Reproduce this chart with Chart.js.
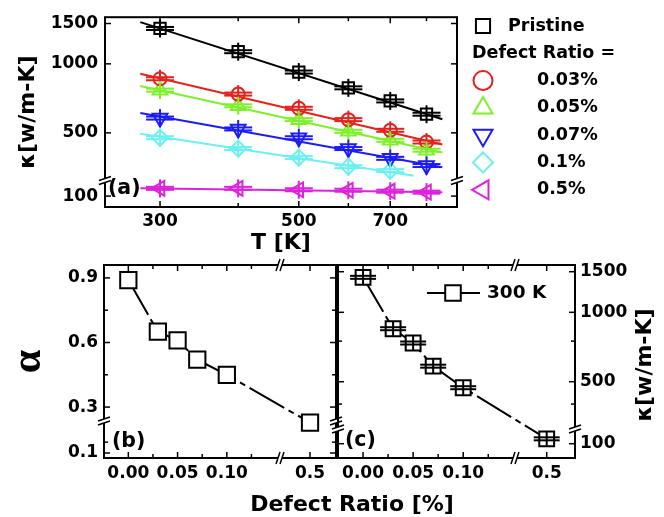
<!DOCTYPE html>
<html>
<head>
<meta charset="utf-8">
<script src="https://cdn.jsdelivr.net/npm/chart.js@4.4.0/dist/chart.umd.min.js"></script>
<style>
  html, body { margin: 0; padding: 0; background: #fff; }
  #wrap { position: relative; width: 664px; height: 517px; }
  #wrap canvas { position: absolute; left: 0; top: 0; }
</style>
</head>
<body>
<div id="wrap">
  <canvas id="chartA" width="664" height="517"></canvas>
  <canvas id="chartB" width="664" height="517"></canvas>
  <canvas id="chartC" width="664" height="517"></canvas>
</div>
<script>
// (a) kappa vs T
const temps = [300, 400, 500, 600, 700, 800];
const tempsCyan = [300, 400, 500, 600, 700];
const kPristine = [1427, 1130, 921, 786, 689, 603];
const k003 = [861, 738, 640, 571, 513, 456];
const k005 = [768, 656, 571, 508, 464, 420];
const k007 = [580, 520, 476, 427, 387, 360];
const k01 = [476, 427, 390, 356, 342];
const k05 = [108, 108, 106.5, 106, 105, 104];
// fitted lines, end points
const fitT = [279, 848];
const fitTCyan = [279, 763];
const fitPristine = [1521, 573];
const fit003 = [905, 445];
const fit005 = [800, 410];
const fit007 = [610, 354];
const fit01 = [495, 325];
const fit05 = [108, 104];

const tTicks = [300, 400, 500, 600, 700, 800];
const tLabels = ['300', '', '500', '', '700', ''];
const kTicksA = [100, 500, 1000, 1500];
const kLabelsA = ['100', '500', '1000', '1500'];

// (b) alpha and (c) kappa at 300 K vs defect ratio
const ratios = [0, 0.03, 0.05, 0.07, 0.1, 0.5];
const alphaVals = [0.89, 0.65, 0.61, 0.52, 0.45, 0.24];
const k300 = [1418, 849, 736, 584, 471, 105];

const ratioTicks = [0, 0.025, 0.05, 0.075, 0.1, 0.125, 0.5];
const ratioLabels = ['0.00', '', '0.05', '', '0.10', '', '0.5'];
const alphaTicks = [0.1, 0.15, 0.3, 0.45, 0.6, 0.75, 0.9];
const alphaLabels = ['0.1', '', '0.3', '', '0.6', '', '0.9'];
const kTicksC = [100, 400, 500, 750, 1000, 1500];
const kLabelsC = ['100', '', '500', '', '1000', '1500'];

const FONT = 'DejaVu Sans';
const tickFont = { family: FONT, size: 17, weight: 'bold' };

// axis made of several pieces (linear or log) with a break between them
class BrokenScale extends Chart.LinearScale {
  segs() {
    return this.chart.config.options.scales[this.id].segments;
  }
  determineDataLimits() {
    const s = this.segs();
    this.min = s[0].min;
    this.max = s[s.length - 1].max;
  }
  buildTicks() {
    return this.chart.config.options.scales[this.id].tickValues.map(v => ({ value: v }));
  }
  toDecimal(v) {
    const s = this.segs();
    const total = s.reduce((a, g) => a + g.weight, 0);
    let start = 0;
    for (let i = 0; i < s.length; i++) {
      const g = s[i];
      const span = g.weight / total;
      if (v <= g.max || i === s.length - 1) {
        const t = g.log ? Math.log(v / g.min) / Math.log(g.max / g.min) : (v - g.min) / (g.max - g.min);
        return start + t * span;
      }
      start += span;
    }
  }
  getPixelForValue(v) {
    return this.getPixelForDecimal(this.toDecimal(v));
  }
  getValueForPixel() {
    return this.min;
  }
  breakPixels() {
    const s = this.segs();
    const total = s.reduce((a, g) => a + g.weight, 0);
    const out = [];
    let acc = 0;
    for (let i = 0; i < s.length - 1; i++) {
      acc += s[i].weight / total;
      out.push(this.getPixelForDecimal(acc));
    }
    return out;
  }
}
BrokenScale.id = 'broken';
BrokenScale.defaults = {};
Chart.register(BrokenScale);

const pts = (xs, ys) => xs.map((x, i) => ({ x: x, y: ys[i] }));

function seg(ctx, x1, y1, x2, y2) {
  ctx.beginPath();
  ctx.moveTo(x1, y1);
  ctx.lineTo(x2, y2);
  ctx.stroke();
}
function breakV(ctx, x, y) {
  ctx.fillStyle = '#fff';
  ctx.beginPath();
  ctx.moveTo(x - 6, y + 1); ctx.lineTo(x + 6, y - 3); ctx.lineTo(x + 6, y + 1); ctx.lineTo(x - 6, y + 5);
  ctx.closePath(); ctx.fill();
  seg(ctx, x - 6, y + 1, x + 6, y - 3);
  seg(ctx, x - 6, y + 5, x + 6, y + 1);
}
function breakH(ctx, x, y) {
  ctx.fillStyle = '#fff';
  ctx.beginPath();
  ctx.moveTo(x - 4, y + 6); ctx.lineTo(x, y - 6); ctx.lineTo(x + 4, y - 6); ctx.lineTo(x, y + 6);
  ctx.closePath(); ctx.fill();
  seg(ctx, x - 4, y + 6, x, y - 6);
  seg(ctx, x, y + 6, x + 4, y - 6);
}

// frame, inward ticks on all four sides, break marks
const framePlugin = {
  id: 'frame',
  afterDraw(chart) {
    const { ctx, chartArea: a, scales } = chart;
    const xs = scales.x, ys = scales.y;
    ctx.save();
    ctx.strokeStyle = '#000';
    ctx.lineWidth = 2;
    ctx.strokeRect(a.left, a.top, a.right - a.left, a.bottom - a.top);
    ctx.lineWidth = 1.5;
    xs.ticks.forEach(t => {
      const p = xs.getPixelForValue(t.value);
      const len = t.label ? 6 : 4;
      seg(ctx, p, a.bottom, p, a.bottom - len);
      seg(ctx, p, a.top, p, a.top + len);
    });
    ys.ticks.forEach(t => {
      const p = ys.getPixelForValue(t.value);
      const len = t.label ? 6 : 4;
      seg(ctx, a.left, p, a.left + len, p);
      seg(ctx, a.right, p, a.right - len, p);
    });
    xs.breakPixels().forEach(p => { breakH(ctx, p, a.bottom); breakH(ctx, p, a.top); });
    ys.breakPixels().forEach(p => { breakV(ctx, a.left, p); breakV(ctx, a.right, p); });
    ctx.restore();
  }
};

// error bars: wide horizontal bar and short vertical one through each point
const errPlugin = {
  id: 'errBars',
  afterDatasetsDraw(chart) {
    const ctx = chart.ctx;
    ctx.save();
    chart.data.datasets.forEach((ds, i) => {
      if (!ds.errW) return;
      ctx.strokeStyle = ds.borderColor;
      ctx.lineWidth = 2;
      chart.getDatasetMeta(i).data.forEach(el => {
        seg(ctx, el.x - ds.errW, el.y - 1.5, el.x + ds.errW, el.y - 1.5);
        seg(ctx, el.x - ds.errW, el.y + 1.5, el.x + ds.errW, el.y + 1.5);
        seg(ctx, el.x, el.y - ds.errH, el.x, el.y + ds.errH);
      });
    });
    ctx.restore();
  }
};

function textPlugin(items) {
  return {
    id: 'texts',
    afterDraw(chart) {
      const ctx = chart.ctx;
      ctx.save();
      ctx.fillStyle = '#000';
      items.forEach(it => {
        ctx.font = it.font;
        ctx.textAlign = it.align || 'left';
        ctx.textBaseline = 'middle';
        ctx.save();
        ctx.translate(it.x, it.y);
        if (it.rot) ctx.rotate(it.rot);
        ctx.fillText(it.text, 0, 0);
        ctx.restore();
      });
      ctx.restore();
    }
  };
}

function fitLine(xs, ys, color) {
  return {
    data: pts(xs, ys), showLine: true, borderColor: color, borderWidth: 2,
    pointRadius: 0, pointHoverRadius: 0
  };
}
function markSet(label, xs, ys, color, style, rot, r, lr) {
  return {
    label: label, data: pts(xs, ys), showLine: false,
    borderColor: color, backgroundColor: 'rgba(0,0,0,0)',
    pointStyle: style, rotation: rot, pointRadius: r, pointHoverRadius: r,
    pointBorderWidth: 2, errW: 14, errH: 9, legendRadius: lr, clip: false
  };
}

const cBlack = '#000000', cRed = '#e3221d', cGreen = '#7ef02c',
  cBlue = '#1c1cf5', cCyan = '#6cf0f0', cMag = '#dc22dc';

// legend of panel (a)
const legendA = {
  id: 'legendA',
  afterDraw(chart) {
    const ctx = chart.ctx;
    ctx.save();
    ctx.font = 'bold 17.5px "' + FONT + '"';
    ctx.textBaseline = 'middle';
    ctx.lineWidth = 2;
    const sets = chart.data.datasets.filter(d => d.legendRadius);
    let y = 26;
    sets.forEach((d, i) => {
      ctx.strokeStyle = d.borderColor;
      ctx.fillStyle = 'rgba(0,0,0,0)';
      Chart.helpers.drawPoint(ctx, { pointStyle: d.pointStyle, rotation: d.rotation, radius: d.legendRadius, borderWidth: 2 }, 483, y);
      ctx.fillStyle = '#000';
      ctx.fillText(d.label, i === 0 ? 508 : 537, y);
      if (i === 0) {
        y += 27.3;
        ctx.fillText('Defect Ratio =', 472, y);
      }
      y += 27.3;
    });
    ctx.restore();
  }
};

new Chart(document.getElementById('chartA'), {
  type: 'scatter',
  data: {
    datasets: [
      fitLine(fitT, fitPristine, cBlack),
      fitLine(fitT, fit003, cRed),
      fitLine(fitT, fit005, cGreen),
      fitLine(fitT, fit007, cBlue),
      fitLine(fitTCyan, fit01, cCyan),
      fitLine(fitT, fit05, cMag),
      markSet('Pristine', temps, kPristine, cBlack, 'rect', 0, 8, 10),
      markSet('0.03%', temps, k003, cRed, 'circle', 0, 6.5, 9.5),
      markSet('0.05%', temps, k005, cGreen, 'triangle', 0, 8.5, 11),
      markSet('0.07%', temps, k007, cBlue, 'triangle', 180, 8.5, 11),
      markSet('0.1%', tempsCyan, k01, cCyan, 'rectRot', 0, 8, 10),
      markSet('0.5%', temps, k05, cMag, 'triangle', 270, 8.5, 11)
    ]
  },
  options: {
    responsive: false,
    animation: false,
    layout: { padding: { left: 5, right: 207, top: 14, bottom: 261 } },
    plugins: { legend: { display: false }, tooltip: { enabled: false } },
    scales: {
      x: {
        type: 'broken', position: 'bottom',
        segments: [{ min: 245, max: 895, log: true, weight: 1 }],
        tickValues: tTicks,
        ticks: { callback: (v, i) => tLabels[i], autoSkip: false, maxRotation: 0, padding: 4, font: tickFont, color: '#000' },
        grid: { display: false, drawTicks: false },
        border: { display: false },
        title: { display: true, text: 'T [K]', color: '#000', font: { family: FONT, size: 22, weight: 'bold' }, padding: 0 },
        afterFit: s => { s.height = 49; }
      },
      y: {
        type: 'broken', position: 'left',
        segments: [{ min: 89.7, max: 118, log: true, weight: 28 }, { min: 313, max: 1598, log: true, weight: 165 }],
        tickValues: kTicksA,
        ticks: { callback: (v, i) => kLabelsA[i], autoSkip: false, padding: 7, font: tickFont, color: '#000' },
        grid: { display: false, drawTicks: false },
        border: { display: false },
        title: { display: true, text: 'κ[w/m-K]', color: '#000', font: { family: FONT, size: 22, weight: 'bold' }, padding: { top: 10 } },
        afterFit: s => { s.width = 100; }
      }
    }
  },
  plugins: [framePlugin, errPlugin, legendA,
    textPlugin([{ text: '(a)', x: 108, y: 189, font: 'bold 20.5px "' + FONT + '"' }])]
});

new Chart(document.getElementById('chartB'), {
  type: 'scatter',
  data: {
    datasets: [{
      label: 'alpha', data: pts(ratios, alphaVals), showLine: true,
      borderColor: '#000', borderWidth: 2, borderDash: [40, 5, 6, 5],
      backgroundColor: '#fff', pointStyle: 'rect', pointRadius: 11.5, pointHoverRadius: 11.5,
      pointBorderWidth: 2, clip: false
    }]
  },
  options: {
    responsive: false,
    animation: false,
    layout: { padding: { left: 4, right: 328, top: 265, bottom: 29 } },
    plugins: { legend: { display: false }, tooltip: { enabled: false } },
    scales: {
      x: {
        type: 'broken', position: 'bottom',
        segments: [{ min: -0.0247, max: 0.154, log: false, weight: 176 }, { min: 0.4695, max: 0.5264, log: false, weight: 56 }],
        tickValues: ratioTicks,
        ticks: { callback: (v, i) => ratioLabels[i], autoSkip: false, maxRotation: 0, padding: 5, font: tickFont, color: '#000' },
        grid: { display: false, drawTicks: false },
        border: { display: false },
        afterFit: s => { s.height = 30; }
      },
      y: {
        type: 'broken', position: 'left',
        segments: [{ min: 0.077, max: 0.252, log: false, weight: 38 }, { min: 0.24, max: 0.96, log: false, weight: 155 }],
        tickValues: alphaTicks,
        ticks: { callback: (v, i) => alphaLabels[i], autoSkip: false, padding: 6, font: tickFont, color: '#000' },
        grid: { display: false, drawTicks: false },
        border: { display: false },
        title: { display: true, text: 'α', color: '#000', font: { family: 'Liberation Serif', size: 42, weight: 'bold' }, padding: { top: 0 } },
        afterFit: s => { s.width = 100; }
      }
    }
  },
  plugins: [framePlugin, textPlugin([{ text: '(b)', x: 112, y: 442, font: 'bold 20.5px "' + FONT + '"' }])]
});

// legend of panel (c)
const legendC = {
  id: 'legendC',
  afterDraw(chart) {
    const ctx = chart.ctx;
    const d = chart.data.datasets[0];
    ctx.save();
    ctx.strokeStyle = '#000';
    ctx.lineWidth = 2;
    seg(ctx, 427, 293, 480, 293);
    ctx.fillStyle = '#fff';
    Chart.helpers.drawPoint(ctx, { pointStyle: 'rect', rotation: 0, radius: 11, borderWidth: 2 }, 453, 293);
    ctx.fillStyle = '#000';
    ctx.font = 'bold 18.5px "' + FONT + '"';
    ctx.textBaseline = 'middle';
    ctx.fillText(d.label, 487, 293);
    ctx.restore();
  }
};

new Chart(document.getElementById('chartC'), {
  type: 'scatter',
  data: {
    datasets: [{
      label: '300 K', data: pts(ratios, k300), showLine: true,
      borderColor: '#000', borderWidth: 2, borderDash: [40, 5, 6, 5],
      backgroundColor: '#fff', pointStyle: 'rect', pointRadius: 10.5, pointHoverRadius: 10.5,
      pointBorderWidth: 2, errW: 13, errH: 7, clip: false
    }]
  },
  options: {
    responsive: false,
    animation: false,
    layout: { padding: { left: 338, right: 9, top: 265, bottom: 29 } },
    plugins: { legend: { display: false }, tooltip: { enabled: false } },
    scales: {
      x: {
        type: 'broken', position: 'bottom',
        segments: [{ min: -0.025, max: 0.1517, log: false, weight: 177 }, { min: 0.4683, max: 0.5283, log: false, weight: 60 }],
        tickValues: ratioTicks,
        ticks: { callback: (v, i) => ratioLabels[i], autoSkip: false, maxRotation: 0, padding: 5, font: tickFont, color: '#000' },
        grid: { display: false, drawTicks: false },
        border: { display: false },
        afterFit: s => { s.height = 30; }
      },
      y: {
        type: 'broken', position: 'right',
        segments: [{ min: 86.7, max: 117, log: true, weight: 30 }, { min: 315, max: 1604, log: true, weight: 163 }],
        tickValues: kTicksC,
        ticks: { callback: (v, i) => kLabelsC[i], autoSkip: false, padding: 5, font: tickFont, color: '#000' },
        grid: { display: false, drawTicks: false },
        border: { display: false },
        afterFit: s => { s.width = 80; }
      }
    }
  },
  plugins: [framePlugin, errPlugin, legendC,
    textPlugin([
      { text: '(c)', x: 345, y: 441, font: 'bold 20.5px "' + FONT + '"' },
      { text: 'Defect Ratio [%]', x: 352, y: 505, align: 'center', font: 'bold 22px "' + FONT + '"' },
      { text: 'κ[w/m-K]', x: 645, y: 365, align: 'center', rot: -Math.PI / 2, font: 'bold 22px "' + FONT + '"' }
    ])]
});
</script>
</body>
</html>
